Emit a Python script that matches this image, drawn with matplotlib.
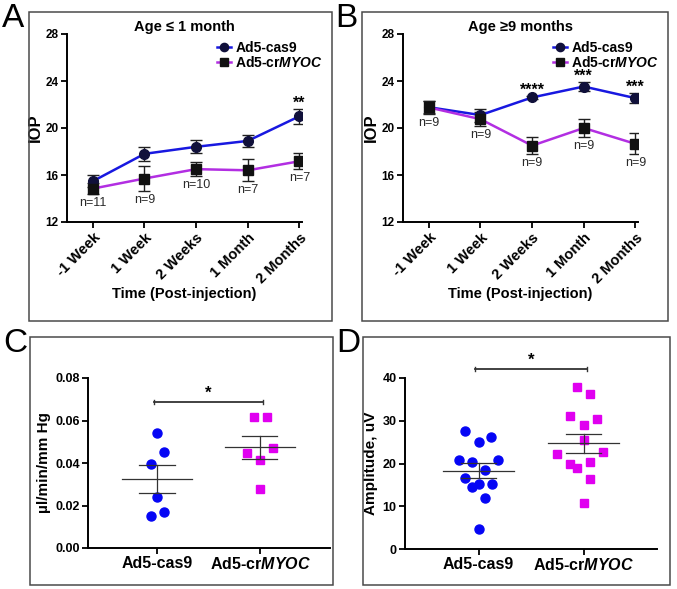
import numpy as np
import matplotlib
matplotlib.use('Agg')
import matplotlib.pyplot as plt
from matplotlib.patches import Rectangle

plt.rcParams['font.family'] = ['Liberation Sans', 'DejaVu Sans']
plt.rcParams['mathtext.fontset'] = 'custom'
plt.rcParams['mathtext.it'] = 'Liberation Sans:bold:italic'
plt.rcParams['mathtext.rm'] = 'Liberation Sans:bold'

# ---- data ----
timepoints = ['-1 Week', '1 Week', '2 Weeks', '1 Month', '2 Months']
groups = ['Ad5-cas9', 'Ad5-cr$\\mathit{MYOC}$']

# panel A (age <= 1 month)
a_cas9 = [15.47, 17.8, 18.4, 18.9, 21.0]
a_cas9_err = [0.5, 0.6, 0.55, 0.53, 0.64]
a_myoc = [14.84, 15.7, 16.5, 16.4, 17.17]
a_myoc_err = [0.45, 1.1, 0.6, 0.95, 0.7]
a_n = ['n=11', 'n=9', 'n=10', 'n=7', 'n=7']
a_stars = ['', '', '', '', '**']

# panel B (age >= 9 months)
b_cas9 = [21.77, 21.1, 22.6, 23.53, 22.54]
b_cas9_err = [0.5, 0.55, 0.15, 0.4, 0.45]
b_myoc = [21.75, 20.75, 18.5, 20.0, 18.65]
b_myoc_err = [0.55, 0.6, 0.75, 0.75, 0.9]
b_n = ['n=9', 'n=9', 'n=9', 'n=9', 'n=9']
b_stars = ['', '', '****', '***', '***']

# panel C (outflow facility), with horizontal scatter offsets
c_cas9 = [0.0541, 0.045, 0.0397, 0.0238, 0.0171, 0.0149]
c_cas9_dx = [0.0, 0.065, -0.06, 0.0, 0.065, -0.06]
c_myoc = [0.0616, 0.0616, 0.0447, 0.047, 0.0413, 0.0278]
c_myoc_dx = [-0.055, 0.065, -0.125, 0.125, 0.0, 0.0]

# panel D (amplitude), with horizontal scatter offsets
d_cas9 = [27.5, 26.3, 25.0, 20.9, 20.3, 20.9, 18.4, 16.6, 15.3, 15.3, 14.4, 12.0, 4.6]
d_cas9_dx = [-0.13, 0.12, 0.0, -0.19, -0.063, 0.19, 0.063, -0.125, 0.0, 0.125, -0.063, 0.063, 0.0]
d_myoc = [37.8, 36.3, 31.0, 30.5, 29.1, 25.5, 22.2, 22.8, 19.8, 20.3, 18.9, 16.3, 10.7]
d_myoc_dx = [-0.063, 0.063, -0.125, 0.125, 0.0, 0.0, -0.25, 0.19, -0.125, 0.063, -0.063, 0.063, 0.0]

BLUE_LINE = '#1818e0'
MAG_LINE = '#b22ee2'
BLUE_PT = '#0505f5'
MAG_PT = '#e000f0'
FRAME = '#4a4a4a'
DARK = '#333333'

fig = plt.figure(figsize=(6.77, 5.89), dpi=100)


def px(x0, y0, x1, y1):
    W, H = 677.0, 589.0
    return [x0 / W, 1 - y1 / H, (x1 - x0) / W, (y1 - y0) / H]


def frame(x0, y0, x1, y1, letter):
    r = Rectangle((x0 / 677.0, 1 - y1 / 589.0), (x1 - x0) / 677.0, (y1 - y0) / 589.0,
                  transform=fig.transFigure, fill=False, edgecolor=FRAME, linewidth=1.1)
    fig.patches.append(r)
    fig.text((x0 - 27) / 677.0, 1 - (y0 - 9) / 589.0, letter, fontsize=24,
             ha='left', va='top')


def style(ax, size):
    for s in ['top', 'right']:
        ax.spines[s].set_visible(False)
    for s in ['left', 'bottom']:
        ax.spines[s].set_linewidth(1.4)
    ax.tick_params(width=1.3, length=4, labelsize=size, pad=2)
    for lb in ax.get_yticklabels():
        lb.set_fontweight('bold')


def line_panel(ax, cas9, cas9_err, myoc, myoc_err, nlab, stars, title):
    x = np.arange(len(timepoints))
    ax.errorbar(x, myoc, yerr=myoc_err, fmt='none', ecolor='#202020', elinewidth=1.0, capsize=4, capthick=1.0)
    ax.errorbar(x, cas9, yerr=cas9_err, fmt='none', ecolor='#202020', elinewidth=1.0, capsize=4, capthick=1.0)
    h1, = ax.plot(x, cas9, color=BLUE_LINE, lw=1.8, marker='o', ms=7, mfc='#10103a', mec='#10103a')
    h2, = ax.plot(x, myoc, color=MAG_LINE, lw=1.8, marker='s', ms=6.5, mfc='#111111', mec='#111111')
    for xi, yi, e, t in zip(x, myoc, myoc_err, nlab):
        ax.annotate(t, (xi, yi - e), xytext=(0, -2), textcoords='offset points',
                    ha='center', va='top', fontsize=9, color='#2a2a2a')
    for xi, yi, e, t in zip(x, cas9, cas9_err, stars):
        if t:
            ax.annotate(t, (xi, yi + e), xytext=(0, -1.5), textcoords='offset points',
                        ha='center', va='bottom', fontsize=11.5, fontweight='bold')
    ax.set_xlim(-0.5, 4.05)
    ax.set_ylim(12, 28)
    ax.set_yticks([12, 16, 20, 24, 28])
    ax.set_xticks(x)
    style(ax, 8.5)
    ax.set_xticklabels(timepoints, rotation=45, ha='right', rotation_mode='anchor',
                       fontsize=10.5, fontweight='bold')
    ax.set_ylabel('IOP', fontsize=12, fontweight='bold', labelpad=2)
    ax.set_xlabel('Time (Post-injection)', fontsize=10.5, fontweight='bold', labelpad=1)
    ax.text(0.5, 1.037, title, transform=ax.transAxes, fontsize=10.5, fontweight='bold',
            ha='center', va='center')
    ax.legend([h1, h2], groups, loc='upper left', bbox_to_anchor=(0.61, 1.0), frameon=False,
              handlelength=1.0, handletextpad=0.3, labelspacing=0.0, borderpad=0.0,
              markerscale=0.85, prop={'size': 10, 'weight': 'bold'})


def scatter_panel(ax, v1, dx1, v2, dx2, ylim, yticks, fmt, ylabel, bar_y, star_y):
    ax.plot(np.array(dx1), v1, 'o', color=BLUE_PT, ms=6.5, zorder=3)
    ax.plot(1 + np.array(dx2), v2, 's', color=MAG_PT, ms=6.3, zorder=3)
    for i, v in enumerate([v1, v2]):
        m = np.mean(v)
        se = np.std(v, ddof=1) / np.sqrt(len(v))
        ax.plot([i - 0.34, i + 0.34], [m, m], color=DARK, lw=0.9, zorder=4)
        ax.plot([i - 0.17, i + 0.17], [m + se, m + se], color=DARK, lw=0.9, zorder=4)
        ax.plot([i - 0.17, i + 0.17], [m - se, m - se], color=DARK, lw=0.9, zorder=4)
        ax.plot([i, i], [m - se, m + se], color=DARK, lw=0.9, zorder=4)
    tick = ylim[1] * 0.012
    ax.plot([-0.03, 1.03], [bar_y, bar_y], color=DARK, lw=1.3, clip_on=False)
    ax.plot([-0.03, -0.03], [bar_y - tick, bar_y + tick], color=DARK, lw=1.0, clip_on=False)
    ax.plot([1.03, 1.03], [bar_y - tick, bar_y + tick], color=DARK, lw=1.0, clip_on=False)
    ax.text(0.5, star_y, '*', ha='center', va='center', fontsize=12, fontweight='bold')
    ax.set_ylim(*ylim)
    ax.set_yticks(yticks)
    ax.set_yticklabels([fmt.format(t) for t in yticks])
    ax.set_xticks([0, 1])
    style(ax, 9)
    ax.set_xticklabels(groups, fontsize=11.5, fontweight='bold')
    ax.set_ylabel(ylabel, fontsize=11, fontweight='bold', labelpad=3)


# panel A
frame(29, 12, 332, 321, 'A')
axA = fig.add_axes(px(67, 34, 302, 222))
line_panel(axA, a_cas9, a_cas9_err, a_myoc, a_myoc_err, a_n, a_stars, 'Age \u2264 1 month')

# panel B
frame(362, 12, 668, 321, 'B')
axB = fig.add_axes(px(403, 34, 638, 222))
line_panel(axB, b_cas9, b_cas9_err, b_myoc, b_myoc_err, b_n, b_stars, 'Age \u22659 months')

# panel C
frame(30, 337, 333, 585, 'C')
axC = fig.add_axes(px(88, 378, 330, 548))
scatter_panel(axC, c_cas9, c_cas9_dx, c_myoc, c_myoc_dx, (0, 0.08),
              [0, 0.02, 0.04, 0.06, 0.08], '{:.2f}', '\u00b5l/min/mm Hg', 0.0685, 0.0728)
axC.set_xlim(-0.67, 1.68)

# panel D
frame(363, 337, 670, 585, 'D')
axD = fig.add_axes(px(405, 378, 657, 549))
scatter_panel(axD, d_cas9, d_cas9_dx, d_myoc, d_myoc_dx, (0, 40),
              [0, 10, 20, 30, 40], '{:d}', 'Amplitude, uV', 42.1, 44.1)
axD.set_xlim(-0.7, 1.7)

fig.savefig('out.png', dpi=100)
